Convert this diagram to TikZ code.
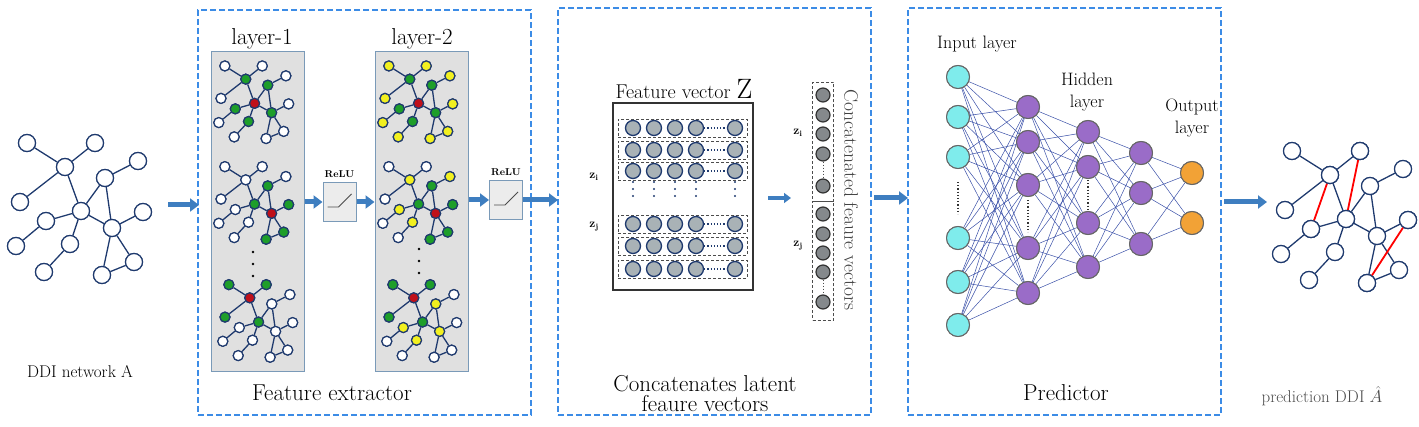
\documentclass[tikz,border=0pt]{standalone}
\usetikzlibrary{arrows.meta}
\begin{document}
\definecolor{navy}{HTML}{1F3A6E}
\definecolor{dblue}{HTML}{3C8CE6}
\definecolor{ablue}{HTML}{3E7EC0}
\definecolor{pgray}{HTML}{E0E0E0}
\definecolor{pedge}{HTML}{7A9AB8}
\definecolor{ngreen}{HTML}{1E9E2A}
\definecolor{nyellow}{HTML}{F2F020}
\definecolor{nred}{HTML}{C0101A}
\definecolor{cyanN}{HTML}{7FECEC}
\definecolor{purpN}{HTML}{9A6CC8}
\definecolor{orgN}{HTML}{F2A236}
\definecolor{vgray}{HTML}{A9B2B6}
\definecolor{cgray}{HTML}{85898C}
\definecolor{fcedge}{HTML}{3A50A8}
\def\netnodes{a/27/143,b/95/143,c/65/167,d/20/202,e/138/161,f/105/178,g/81/211,h/143/212,i/46/221,j/112/228,k/16/246,l/70/244,m/134/262,n/44/272,o/102/275}
\def\netedges{a/c,b/c,c/d,c/g,g/f,f/e,f/j,g/i,i/k,g/l,l/n,g/j,j/h,j/o,j/m,o/m}
% #1 prefix #2 dx #3 dy #4 scale #5 diameter #6 red #7 green #8 yellow
\newcommand\mynet[8]{%
  \foreach \n in {a,b,c,d,e,f,g,h,i,j,k,l,m,n,o}{\expandafter\xdef\csname nc#1\n\endcsname{white}}%
  \foreach \n in {#6}{\expandafter\xdef\csname nc#1\n\endcsname{nred}}%
  \foreach \n in {#7}{\expandafter\xdef\csname nc#1\n\endcsname{ngreen}}%
  \foreach \n in {#8}{\expandafter\xdef\csname nc#1\n\endcsname{nyellow}}%
  \foreach \n/\x/\y in \netnodes{%
    \pgfmathsetmacro\px{\x*#4+#2}\pgfmathsetmacro\py{\y*#4+#3}%
    \edef\cc{\csname nc#1\n\endcsname}%
    \node[gn, minimum size=#5pt, fill=\cc] (#1\n) at (\px,\py) {};}%
  \foreach \s/\t in \netedges{\draw[navy, line width=1.3pt] (#1\s) -- (#1\t);}%
  \foreach \n/\x/\y in \netnodes{%
    \edef\cc{\csname nc#1\n\endcsname}%
    \node[gn, minimum size=#5pt, fill=\cc] at (#1\n) {};}%
}
\begin{tikzpicture}[x=1pt,y=-1pt,
  gn/.style={circle, draw=navy, line width=1.2pt, inner sep=0pt},
  dbox/.style={draw=dblue, dash pattern=on 6pt off 3pt, line width=1.1pt},
  panel/.style={draw=pedge, fill=pgray, line width=1pt},
  barrow/.style={ablue, line width=5pt, -{Triangle[length=9pt,width=13pt]}},
  relu/.style={draw=pedge, fill=pgray!60, line width=1pt, minimum width=33pt, minimum height=39pt},
  lab/.style={font=\fontsize{23}{26}\selectfont},
  vc/.style={circle, draw=navy, line width=1.3pt, fill=vgray, minimum size=15pt, inner sep=0pt},
  cc/.style={circle, draw=black!80, line width=1.2pt, fill=cgray, minimum size=14pt, inner sep=0pt},
  rowb/.style={draw=black!70, dash pattern=on 3pt off 2pt, line width=0.8pt},
  fc/.style={fcedge, line width=0.5pt},
  nn/.style={circle, draw=black!60, line width=1pt, minimum size=23pt, inner sep=0pt}]
\useasboundingbox (0,0) rectangle (1419,427);
% dashed frames
\node[dbox, minimum width=333pt, minimum height=405pt, inner sep=0pt] (F1) at (364.5,212.5) {};
\node[dbox, minimum width=313pt, minimum height=407pt, inner sep=0pt] (F2) at (714.5,211.5) {};
\node[dbox, minimum width=313pt, minimum height=407pt, inner sep=0pt] (F3) at (1064.5,211.5) {};
% left network
\mynet{A}{0}{0}{1}{17}{}{}{}
\node[font=\fontsize{17}{19}\selectfont] (labA) at (80,372) {DDI network A};
% panels
\node[panel, minimum width=93pt, minimum height=320pt, inner sep=0pt] (P1) at (257.5,212) {};
\node[panel, minimum width=93pt, minimum height=320pt, inner sep=0pt] (P2) at (421.5,212) {};
\node[lab] (l1) at (262,39) {layer-1};
\node[lab] (l2) at (422,39) {layer-2};
\mynet{Ba}{210}{-12.7}{0.55}{10}{g}{c,f,i,l,j}{}
\mynet{Bb}{210}{88}{0.55}{10}{j}{f,g,h,o,m}{}
\mynet{Bc}{214}{206}{0.55}{10}{c}{a,b,d,g}{}
\mynet{Ca}{374}{-12.7}{0.55}{10}{g}{c,f,i,l,j}{a,b,d,e,k,n,h,o,m}
\mynet{Cb}{374}{88}{0.55}{10}{j}{f,g,h,o,m}{c,e,i,l}
\mynet{Cc}{378}{206}{0.55}{10}{c}{a,b,d,g}{f,i,l,j}
\foreach \yy in {252,264,276}{\fill (253,\yy) circle (1.4pt); \fill (419,\yy-3) circle (1.4pt);}
\node[lab] (fe) at (332,393) {Feature extractor};
% relu
\node[relu] (R1) at (339.5,202) {};
\node[relu] (R2) at (506,200) {};
\node[font=\bfseries\fontsize{10}{11}\selectfont, above=1pt] at (R1.north) {ReLU};
\node[font=\bfseries\fontsize{10}{11}\selectfont, above=1pt] at (R2.north) {ReLU};
\draw[black!70, line width=0.8pt] ([shift={(-12,5)}]R1.center) -- ([shift={(-1,5)}]R1.center) -- ([shift={(12,-8)}]R1.center);
\draw[black!70, line width=0.8pt] ([shift={(-12,5)}]R2.center) -- ([shift={(-1,5)}]R2.center) -- ([shift={(12,-8)}]R2.center);
% arrows
\coordinate (a0s) at (168,205); \coordinate (a0e) at (199,205);
\draw[barrow] (a0s) -- (a0e);
\draw[barrow] (P1.east |- R1.west) -- (R1.west);
\draw[barrow] (R1.east) -- (P2.west |- R1.east);
\draw[barrow] (P2.east |- R2.west) -- (R2.west);
\coordinate (a4e) at (558,198);
\draw[barrow] (R2.east) -- (a4e |- R2.east);
\coordinate (a5s) at (768,198); \coordinate (a5e) at (791,198);
\draw[ablue, line width=4pt, -{Triangle[length=7pt,width=10pt]}] (a5s) -- (a5e);
\coordinate (a6s) at (874,198); \coordinate (a6e) at (908,198);
\draw[barrow] (a6s) -- (a6e);
\coordinate (a7s) at (1224,202); \coordinate (a7e) at (1267,202);
\draw[barrow] (a7s) -- (a7e);
% feature vector matrix
\node[font=\fontsize{20}{22}\selectfont] (fvz) at (684,89) {Feature vector \fontsize{28}{30}\selectfont Z};
\node[draw=black!80, line width=1.3pt, minimum width=140pt, minimum height=187pt, inner sep=0pt] (FV) at (683,196.5) {};
\foreach \ry [count=\r] in {128,150,171,224,246,269}{
  \node[rowb, minimum width=129pt, minimum height=18pt, inner sep=0pt] (row\r) at (682.5,\ry) {};
  \foreach \cx [count=\c] in {633,654,675,696,735}{\node[vc] (v\r\c) at (\cx,\ry) {};}
  \draw[navy, line width=1.2pt, dotted] (v\r4.east) -- (v\r5.west);
}
\foreach \cx in {633,654,675,696,735}{\foreach \yy in {182,189,196}{\fill[navy] (\cx,\yy) circle (1.1pt);}}
\node[font=\bfseries\fontsize{12}{13}\selectfont] (zi) at (594,177) {z\textsubscript{i}};
\node[font=\bfseries\fontsize{12}{13}\selectfont] (zj) at (594,227) {z\textsubscript{j}};
% concatenated
\node[rowb, minimum width=21pt, minimum height=119pt, inner sep=0pt] (cg1) at (823,142) {};
\node[rowb, minimum width=21pt, minimum height=119pt, inner sep=0pt] (cg2) at (823,261) {};
\foreach \yy [count=\k] in {95,115,134,154,186}{\node[cc] (ca\k) at (823,\yy) {};}
\foreach \yy [count=\k] in {214,234,253,272,302}{\node[cc] (cb\k) at (823,\yy) {};}
\draw[black!70, line width=1pt, dotted] (ca4.south) -- (ca5.north);
\draw[black!70, line width=1pt, dotted] (cb4.south) -- (cb5.north);
\node[font=\bfseries\fontsize{12}{13}\selectfont] (czi) at (798,133) {z\textsubscript{i}};
\node[font=\bfseries\fontsize{12}{13}\selectfont] (czj) at (798,246) {z\textsubscript{j}};
\node[font=\fontsize{19.5}{21}\selectfont, rotate=-90, text=black!75] (cfv) at (851,200) {Concatenated feaure vectors};
\node[lab, align=center] (clf) at (705,394) {Concatenates latent\\[-6pt]feaure vectors};
% predictor
\foreach \yy [count=\k] in {77,117,157,238,282,325}{\node[nn, fill=cyanN] (I\k) at (958,\yy) {};}
\foreach \yy [count=\k] in {107,142,185,248,293}{\node[nn, fill=purpN] (H\k) at (1028,\yy) {};}
\foreach \yy [count=\k] in {132,167,223,267}{\node[nn, fill=purpN] (G\k) at (1088,\yy) {};}
\foreach \yy [count=\k] in {153,193,244}{\node[nn, fill=purpN] (K\k) at (1141,\yy) {};}
\foreach \yy [count=\k] in {173,223}{\node[nn, fill=orgN] (O\k) at (1192,\yy) {};}
\foreach \a in {1,...,6}{\foreach \b in {1,...,5}{\draw[fc] (I\a) -- (H\b);}}
\foreach \a in {1,...,5}{\foreach \b in {1,...,4}{\draw[fc] (H\a) -- (G\b);}}
\foreach \a in {1,...,4}{\foreach \b in {1,...,3}{\draw[fc] (G\a) -- (K\b);}}
\foreach \a in {1,...,3}{\foreach \b in {1,...,2}{\draw[fc] (K\a) -- (O\b);}}
\foreach \k in {1,...,6}{\node[nn, fill=cyanN] at (I\k) {};}
\foreach \k in {1,...,5}{\node[nn, fill=purpN] at (H\k) {};}
\foreach \k in {1,...,4}{\node[nn, fill=purpN] at (G\k) {};}
\foreach \k in {1,...,3}{\node[nn, fill=purpN] at (K\k) {};}
\foreach \k in {1,2}{\node[nn, fill=orgN] at (O\k) {};}
\draw[black!80, line width=1.2pt, dotted] (958,182) -- (958,214);
\draw[black!80, line width=1.2pt, dotted] (1028,200) -- (1028,232);
\draw[black!80, line width=1.2pt, dotted] (1088,180) -- (1088,210);
\node[font=\fontsize{18}{20}\selectfont] (il) at (977,44) {Input layer};
\node[font=\fontsize{18}{22}\selectfont, align=center] (hl) at (1087,92) {Hidden\\layer};
\node[font=\fontsize{18}{22}\selectfont, align=center] (ol) at (1192,118) {Output\\layer};
\node[lab] (pr) at (1066,393) {Predictor};
% right network
\mynet{D}{1265}{8}{1}{17}{}{}{}
\foreach \s/\t in {c/i,b/g,h/o}{\draw[red, line width=1.8pt] (D\s) -- (D\t);}
\foreach \n in {c,i,b,g,h,o}{\node[gn, minimum size=17pt, fill=white] at (D\n) {};}
\node[font=\fontsize{17}{19}\selectfont, text=black!70] (pl) at (1322,396) {prediction DDI $\hat{A}$};
\end{tikzpicture}
\end{document}
